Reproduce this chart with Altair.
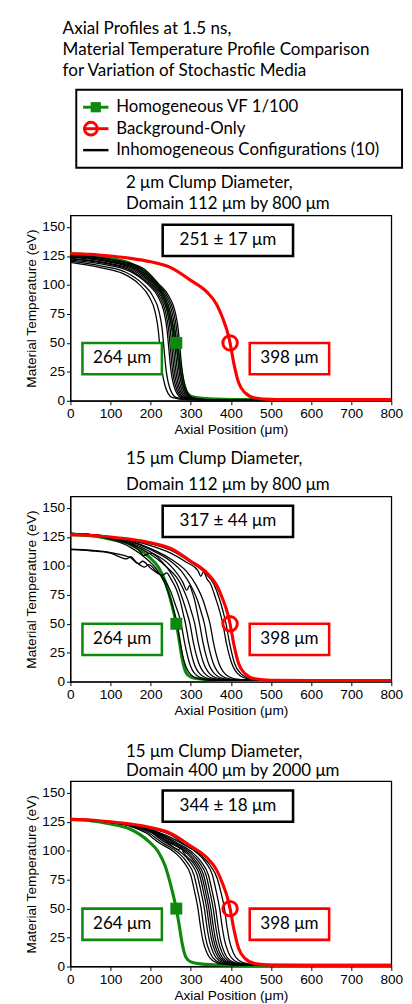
import altair as alt
import pandas as pd

# ---------------- text ----------------
main_title = ["Axial Profiles at 1.5 ns,",
              "Material Temperature Profile Comparison",
              "for Variation of Stochastic Media"]
legend_labels = ["Homogeneous VF 1/100", "Background-Only",
                 "Inhomogeneous Configurations (10)"]
kind_names = ["green", "red", "black"]
kind_colors = ["#0d8a0d", "#ff0000", "#000000"]

panel_titles = [["2 μm Clump Diameter,", "Domain 112 μm by 800 μm"],
                ["15 μm Clump Diameter,", "Domain 112 μm by 800 μm"],
                ["15 μm Clump Diameter,", "Domain 400 μm by 2000 μm"]]
spread_labels = ["251 ± 17 μm", "317 ± 44 μm", "344 ± 18 μm"]
homog_label = "264 μm"
bg_label = "398 μm"

x_ticks = [0, 100, 200, 300, 400, 500, 600, 700, 800]
y_ticks = [0, 25, 50, 75, 100, 125, 150]

# ---------------- reference curves (same in all panels) ----------------
red_x = [0, 50, 100, 150, 200, 250, 300, 340, 365, 380, 391, 398, 407, 419, 435, 460, 500, 600, 800]
red_t = [127, 126.5, 125, 123, 120, 115, 104, 94, 83, 71, 60, 50, 33, 16, 7, 2.5, 1.2, 1, 1]

green_x = [0, 50, 100, 150, 195, 220, 236, 248, 256, 264, 272, 278, 288, 300, 320, 360, 450, 800]
green_t = [127, 126, 123, 118.5, 108, 98.5, 87, 73, 62, 50, 34, 21, 8, 4, 2.5, 1.5, 1, 1]

# markers at 50 eV
homog_front = [264]
bg_front = [398]
marker_t = [50]

# ---------------- panel 1: 2 um clumps ----------------
p1_black_x = [
    [0, 75, 130, 170, 196, 211, 219, 222, 228, 236, 253, 290, 800],
    [0, 75, 138, 180, 206, 221, 229, 232, 238, 246, 263, 300, 800],
    [0, 80, 150, 192, 218, 233, 241, 244, 250, 258, 275, 312, 800],
    [0, 80, 154, 196, 222, 237, 245, 248, 254, 262, 279, 316, 800],
    [0, 85, 158, 200, 226, 241, 249, 252, 258, 266, 283, 320, 800],
    [0, 85, 162, 204, 230, 245, 253, 256, 262, 270, 287, 324, 800],
    [0, 90, 166, 208, 234, 249, 257, 260, 266, 274, 291, 328, 800],
    [0, 90, 170, 212, 238, 253, 261, 264, 270, 278, 295, 332, 800],
    [0, 95, 174, 216, 242, 257, 265, 268, 274, 282, 299, 336, 800],
    [0, 95, 178, 220, 246, 261, 269, 272, 278, 286, 303, 340, 800],
]
p1_black_t = [
    [119.5, 115, 110, 101, 90, 77, 61, 50, 27, 13, 3, 1, 1],
    [120.5, 116.5, 111, 101, 90, 77, 61, 50, 28, 13, 3, 1, 1],
    [121.5, 118, 111.5, 101, 90, 77, 61, 50, 28, 13, 3, 1, 1],
    [122.5, 119, 112, 101, 90, 77, 61, 50, 28, 13, 3, 1, 1],
    [123, 119.5, 112.5, 101, 90, 77, 61, 50, 28, 13, 3, 1, 1],
    [124, 120.5, 113, 101, 90, 77, 61, 50, 28, 13, 3, 1, 1],
    [124.5, 121, 113.5, 101, 90, 77, 61, 50, 28, 13, 3, 1, 1],
    [125, 121.5, 114, 101, 90, 77, 61, 50, 28, 13, 3, 1, 1],
    [125.5, 122, 114.5, 101, 90, 77, 61, 50, 28, 13, 3, 1, 1],
    [126, 122.5, 115, 101, 90, 77, 61, 50, 28, 13, 3, 1, 1],
]

# ---------------- panel 2: 15 um clumps, small domain ----------------
p2_black_x = [
    [0, 50, 100, 150, 190, 215, 235, 249, 258, 266, 274, 284, 298, 320, 360, 800],
    [0, 50, 100, 140, 150, 165, 185, 195, 215, 235, 250, 262, 270, 276, 285, 296, 310, 335, 375, 800],
    [0, 50, 100, 150, 170, 180, 200, 230, 240, 250, 265, 275, 281, 287, 296, 307, 322, 347, 387, 800],
    [0, 50, 100, 150, 175, 182, 200, 230, 250, 265, 280, 290, 298, 307, 319, 335, 360, 400, 800],
    [0, 50, 100, 150, 200, 240, 265, 280, 293, 302, 310, 319, 331, 347, 372, 412, 800],
    [0, 50, 100, 150, 200, 250, 280, 290, 297, 303, 310, 316, 322, 331, 343, 359, 384, 424, 800],
    [0, 50, 100, 150, 200, 250, 280, 300, 316, 326, 334, 343, 355, 371, 396, 436, 800],
    [0, 50, 100, 150, 200, 250, 290, 314, 330, 340, 348, 357, 369, 385, 410, 450, 800],
    [0, 50, 100, 150, 200, 250, 290, 318, 325, 332, 340, 350, 362, 372, 380, 389, 401, 417, 442, 482, 800],
    [0, 50, 100, 150, 200, 250, 300, 335, 358, 372, 381, 388, 397, 409, 425, 450, 490, 800],
]
p2_black_t = [
    [127.5, 126.5, 123, 116, 106, 97, 85, 72, 61, 50, 33, 17, 7, 2.5, 1.2, 1],
    [114, 113, 111, 106, 108, 103, 99, 101, 95, 88, 78, 66, 58, 50, 33, 17, 7, 2.5, 1.2, 1],
    [114.5, 113.5, 111.5, 107, 102, 104, 98, 92, 94, 89, 79, 68, 59, 50, 33, 17, 7, 2.5, 1.2, 1],
    [128, 127, 124, 118, 112, 109, 111, 103, 94, 85, 71, 60, 50, 33, 17, 7, 2.5, 1.2, 1],
    [127.5, 126.5, 124, 119, 110, 99, 90, 81, 70, 60, 50, 33, 17, 7, 2.5, 1.2, 1],
    [128, 127, 124.5, 120, 112, 100, 86, 79, 83, 78, 70, 60, 50, 33, 17, 7, 2.5, 1.2, 1],
    [127.5, 127, 125, 121, 114, 104, 94, 83, 71, 60, 50, 33, 17, 7, 2.5, 1.2, 1],
    [128, 127, 125, 121.5, 115, 106, 95, 83, 71, 60, 50, 33, 17, 7, 2.5, 1.2, 1],
    [127.5, 127, 125, 122, 117.5, 111, 103, 96, 91, 95, 89, 84, 72, 61, 50, 33, 17, 7, 2.5, 1.2, 1],
    [128, 127, 125, 122.5, 119, 113.5, 103, 94, 84, 71, 60, 50, 33, 16, 7, 2.5, 1.2, 1],
]

# ---------------- panel 3: 15 um clumps, large domain ----------------
p3_black_x = [
    [0, 100, 150, 190, 220, 260, 283, 300, 310, 318, 324, 330, 340, 355, 380, 420, 800],
    [0, 100, 150, 195, 228, 268, 291, 308, 318, 326, 332, 338, 348, 363, 388, 428, 800],
    [0, 100, 150, 200, 236, 276, 299, 316, 326, 334, 340, 346, 356, 371, 396, 436, 800],
    [0, 100, 150, 200, 242, 270, 276, 282, 305, 322, 332, 340, 346, 352, 362, 377, 402, 442, 800],
    [0, 100, 150, 200, 247, 287, 310, 327, 337, 345, 351, 357, 367, 382, 407, 447, 800],
    [0, 100, 150, 200, 225, 252, 292, 315, 332, 342, 350, 356, 362, 372, 387, 412, 452, 800],
    [0, 100, 150, 200, 230, 258, 298, 321, 338, 348, 356, 362, 368, 378, 393, 418, 458, 800],
    [0, 100, 150, 200, 235, 264, 304, 327, 344, 354, 362, 368, 374, 384, 399, 424, 464, 800],
    [0, 100, 150, 200, 240, 274, 314, 337, 354, 364, 372, 378, 384, 394, 409, 434, 474, 800],
    [0, 100, 150, 200, 250, 286, 326, 349, 366, 376, 384, 390, 396, 406, 421, 446, 486, 800],
]
p3_black_t = [
    [127, 124.5, 121, 115, 107, 98.5, 90, 79, 64, 50, 35, 23, 12, 5, 2, 1.2, 1],
    [127, 124.5, 121.5, 115.5, 107, 98.5, 90, 79, 64, 50, 35, 23, 12, 5, 2, 1.2, 1],
    [127, 124.5, 121.5, 116, 107, 98.5, 90, 79, 64, 50, 35, 23, 12, 5, 2, 1.2, 1],
    [127, 124.5, 122, 116.5, 107, 101, 103, 98.5, 90, 79, 64, 50, 35, 23, 12, 5, 2, 1.2, 1],
    [127, 124.5, 122, 117, 107, 98.5, 90, 79, 64, 50, 35, 23, 12, 5, 2, 1.2, 1],
    [127, 124.5, 122, 117, 113, 107, 98.5, 90, 79, 64, 50, 35, 23, 12, 5, 2, 1.2, 1],
    [127, 124.5, 122, 117.5, 113, 107, 98.5, 90, 79, 64, 50, 35, 23, 12, 5, 2, 1.2, 1],
    [127, 125, 122, 118, 113, 107, 98.5, 90, 79, 64, 50, 35, 23, 12, 5, 2, 1.2, 1],
    [127, 125, 122.5, 118, 113, 107, 98.5, 90, 79, 64, 50, 35, 23, 12, 5, 2, 1.2, 1],
    [127, 125, 122.5, 119, 113.5, 105, 96, 87, 76, 63, 50, 35, 23, 12, 5, 2, 1.2, 1],
]

# annotation boxes, in data units: (x0, x1, T0, T1)
spread_box = [230, 555, 125, 152]
homog_box = [30, 228, 23, 50]
bg_box = [447, 645, 23, 50]

# ---------------- styling / layout ----------------
TITLE_FONT = "Lato"
AXIS_FONT = "Liberation Sans"
PANEL_W = 329
PANEL_H = 190
Y_EXTENT = 30
LEFT_EXTENT = 45          # y-axis labels + title width left of each plot
# heading line offsets above each plot, and reserved head room (px)
heading_offsets = [(-33, -12), (-38, -12), (-30, -10)]
head_room = [42, 54, 58]
main_title_y = [-62, -40.5, -19]

kind_scale = alt.Scale(domain=kind_names, range=kind_colors)


def xenc(field):
    return alt.X(f"{field}:Q", scale=alt.Scale(domain=[0, 800], nice=False),
                 axis=alt.Axis(values=x_ticks, title="Axial Position (μm)",
                               titlePadding=3, labelPadding=2, labelFlush=False))


def yenc(field):
    return alt.Y(f"{field}:Q", scale=alt.Scale(domain=[0, 160], nice=False),
                 axis=alt.Axis(values=y_ticks, title="Material Temperature (eV)",
                               titlePadding=3, labelPadding=2, labelFlush=False,
                               minExtent=Y_EXTENT, maxExtent=Y_EXTENT))


def lines_frame(xs_list, ts_list, kind):
    rows = []
    for i, (xs, ts) in enumerate(zip(xs_list, ts_list)):
        for xv, tv in zip(xs, ts):
            rows.append({"x": xv, "T": tv, "curve": f"{kind}{i}", "kind": kind})
    return pd.DataFrame(rows)


def text_layer(txt, x, y, size, align="left"):
    return alt.Chart(pd.DataFrame({"t": [txt]})).mark_text(
        align=align, baseline="middle", font=TITLE_FONT, fontSize=size, color="black"
    ).encode(x=alt.value(x), y=alt.value(y), text="t:N")


def spacer(x0, x1, y0, y1):
    return alt.Chart(pd.DataFrame({"t": [""]})).mark_rect(opacity=0).encode(
        x=alt.value(x0), x2=alt.value(x1), y=alt.value(y0), y2=alt.value(y1))


def panel(idx, black_x, black_t):
    df_black = lines_frame(black_x, black_t, "black")
    df_green = lines_frame([green_x], [green_t], "green")
    df_red = lines_frame([red_x], [red_t], "red")

    def line_layer(df, width):
        return alt.Chart(df).mark_line(interpolate="monotone", strokeWidth=width).encode(
            x=xenc("x"), y=yenc("T"), detail="curve:N",
            color=alt.Color("kind:N", scale=kind_scale, legend=None))

    green_l = line_layer(df_green, 3.2)
    black_l = line_layer(df_black, 1.3)
    red_l = line_layer(df_red, 3.2)

    sq = alt.Chart(pd.DataFrame({"x": homog_front, "T": marker_t})).mark_point(
        shape="square", filled=True, size=150, opacity=1, color=kind_colors[0]
    ).encode(x=xenc("x"), y=yenc("T"))
    circ = alt.Chart(pd.DataFrame({"x": bg_front, "T": marker_t})).mark_point(
        shape="circle", filled=False, size=220, strokeWidth=3, opacity=1, color=kind_colors[1]
    ).encode(x=xenc("x"), y=yenc("T"))

    boxes = pd.DataFrame({
        "kind": ["black", "green", "red"],
        "label": [spread_labels[idx], homog_label, bg_label],
        "x0": [spread_box[0], homog_box[0], bg_box[0]],
        "x1": [spread_box[1], homog_box[1], bg_box[1]],
        "t0": [spread_box[2], homog_box[2], bg_box[2]],
        "t1": [spread_box[3], homog_box[3], bg_box[3]],
    })
    boxes["xc"] = (boxes["x0"] + boxes["x1"]) / 2
    boxes["tc"] = (boxes["t0"] + boxes["t1"]) / 2

    rects = alt.Chart(boxes).mark_rect(fill="white", strokeWidth=2.6).encode(
        x=xenc("x0"), x2="x1", y=yenc("t0"), y2="t1",
        stroke=alt.Color("kind:N", scale=kind_scale, legend=None))
    texts = alt.Chart(boxes).mark_text(font=TITLE_FONT, fontSize=17.5, color="black").encode(
        x=xenc("xc"), y=yenc("tc"), text="label:N")

    h1 = text_layer(panel_titles[idx][0], 57, heading_offsets[idx][0], 17.3)
    h2 = text_layer(panel_titles[idx][1], 57, heading_offsets[idx][1], 17.3)
    room = spacer(0, 10, -head_room[idx], 0)

    return alt.layer(green_l, black_l, red_l, sq, circ, rects, texts, h1, h2, room).properties(
        width=PANEL_W, height=PANEL_H)


# ---------------- legend panel (with the figure heading above it) ----------------
leg_df = pd.DataFrame({"label": legend_labels, "kind": kind_names})
leg_rows_y = [18, 40, 62]

leg_layers = [spacer(-LEFT_EXTENT, 0, 0, 80)]
leg_layers.append(alt.Chart(leg_df.head(1)).mark_rect(
    fill="white", stroke="black", strokeWidth=2).encode(
    x=alt.value(6), x2=alt.value(340), y=alt.value(0), y2=alt.value(80)))
for i, (lab, col) in enumerate(zip(legend_labels, kind_colors)):
    row = leg_df.iloc[[i]]
    yv = leg_rows_y[i]
    leg_layers.append(alt.Chart(row).mark_rule(strokeWidth=3 if i < 2 else 2.5, color=col).encode(
        x=alt.value(13), x2=alt.value(39), y=alt.value(yv)))
    if i == 0:
        leg_layers.append(alt.Chart(row).mark_point(
            shape="square", filled=True, size=110, opacity=1, color=col).encode(
            x=alt.value(26), y=alt.value(yv)))
    if i == 1:
        leg_layers.append(alt.Chart(row).mark_point(
            shape="circle", filled=False, size=170, strokeWidth=3, opacity=1, color=col).encode(
            x=alt.value(21), y=alt.value(yv)))
    leg_layers.append(alt.Chart(row).mark_text(
        align="left", baseline="middle", font=TITLE_FONT, fontSize=17.2, color="black").encode(
        x=alt.value(47), y=alt.value(yv), text="label:N"))

for line, yv in zip(main_title, main_title_y):
    leg_layers.append(text_layer(line, -8, yv, 17.5))

legend_panel = alt.layer(*leg_layers).properties(
    width=340, height=80, view=alt.ViewBackground(strokeOpacity=0))

p1 = panel(0, p1_black_x, p1_black_t)
p2 = panel(1, p2_black_x, p2_black_t)
p3 = panel(2, p3_black_x, p3_black_t)

chart = alt.vconcat(legend_panel, p1, p2, p3, spacing=5).properties(
    padding={"left": 16, "top": 0, "right": 0, "bottom": 0},
).configure_view(stroke="black", strokeWidth=1.3).configure_axis(
    labelFont=AXIS_FONT, labelFontSize=14, labelColor="black",
    titleFont=AXIS_FONT, titleFontSize=14, titleFontWeight="normal", titleColor="black",
    tickColor="black", tickSize=4, domainColor="black", grid=False,
)

chart.save("out.html", embed_options={"renderer": "svg", "actions": False})
